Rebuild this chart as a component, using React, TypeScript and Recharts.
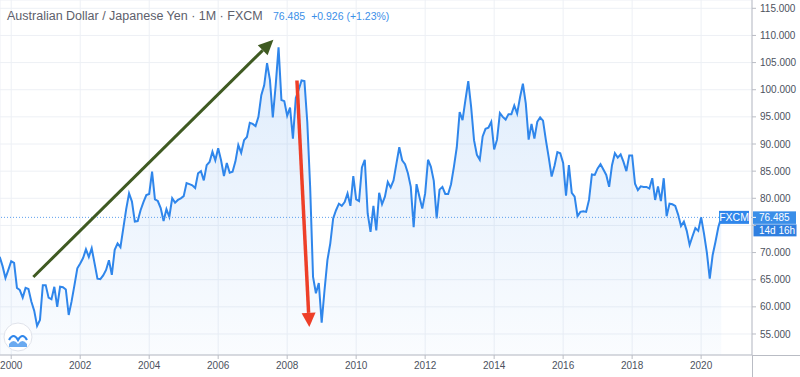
import React from 'react';
import { ComposedChart, Area, XAxis, YAxis, CartesianGrid, ReferenceLine } from 'recharts';

// monthly closes, AUD/JPY, first value is Sep 1999
const FIRST_MONTH = -4; // months counted from Jan 2000

const closes1999 = [69.2, 67.5, 65.3, 66.8];
const closes2000 = [68.4, 68.1, 63.5, 63.1, 61.7, 63.5, 63.3, 61.0, 59.3, 56.5, 57.6, 64.0];
const closes2001 = [64.0, 61.7, 61.4, 63.7, 60.0, 63.7, 63.6, 63.2, 58.5, 61.0, 64.0, 67.1];
const closes2002 = [68.0, 69.0, 70.6, 69.2, 70.8, 68.0, 65.2, 65.1, 65.8, 66.8, 68.6, 65.9];
const closes2003 = [70.5, 71.7, 71.0, 74.5, 78.0, 80.9, 79.4, 75.7, 75.8, 77.8, 79.3, 80.6];
const closes2004 = [80.8, 84.9, 79.8, 79.5, 78.2, 75.8, 78.0, 76.6, 80.0, 79.2, 79.7, 80.0];
const closes2005 = [80.4, 82.8, 82.6, 82.4, 81.9, 84.6, 85.0, 83.3, 86.1, 86.7, 88.6, 87.0];
const closes2006 = [89.2, 87.0, 84.1, 86.5, 84.7, 84.9, 86.8, 89.8, 88.4, 90.7, 91.3, 93.9];
const closes2007 = [93.7, 93.3, 95.0, 99.0, 100.8, 104.9, 101.8, 94.9, 100.8, 107.8, 98.1, 97.9];
const closes2008 = [95.2, 96.7, 91.0, 98.5, 100.0, 101.7, 101.6, 94.0, 82.0, 65.5, 62.5, 64.4];
const closes2009 = [57.1, 63.1, 68.6, 71.7, 76.3, 77.8, 79.0, 78.6, 79.3, 80.9, 78.6, 84.1];
const closes2010 = [79.8, 79.5, 85.7, 87.1, 77.2, 73.8, 78.6, 74.1, 81.0, 78.9, 80.3, 83.0];
const closes2011 = [82.0, 83.3, 86.4, 89.4, 87.0, 86.3, 84.6, 82.1, 74.7, 82.6, 80.3, 78.1];
const closes2012 = [80.9, 87.1, 85.8, 83.2, 76.3, 81.6, 82.1, 80.8, 80.8, 82.6, 85.8, 89.4];
const closes2013 = [95.9, 94.4, 98.1, 101.6, 96.8, 90.7, 88.0, 87.1, 91.4, 92.8, 93.0, 94.1];
const closes2014 = [89.0, 90.8, 95.7, 95.0, 94.5, 95.5, 95.5, 97.1, 95.6, 98.6, 101.1, 97.5];
const closes2015 = [90.8, 93.7, 91.0, 94.1, 94.9, 94.3, 90.7, 87.5, 84.0, 86.0, 88.5, 88.3];
const closes2016 = [86.5, 80.5, 86.1, 81.0, 80.3, 76.7, 77.5, 77.6, 77.5, 79.7, 84.4, 84.3];
const closes2017 = [85.5, 86.3, 85.3, 84.3, 82.1, 86.1, 88.3, 87.5, 88.1, 86.7, 85.0, 87.9];
const closes2018 = [87.9, 82.7, 81.5, 82.2, 82.1, 82.1, 81.8, 83.7, 79.7, 82.2, 79.5, 83.7];
const closes2019 = [76.7, 79.0, 78.9, 78.6, 77.0, 74.9, 75.7, 74.0, 71.4, 73.0, 74.5, 74.0];
const closes2020 = [76.5, 73.5, 70.0, 65.2, 69.5, 72.0, 74.7, 76.485];

const yearTicks = [2000, 2002, 2004, 2006, 2008, 2010, 2012, 2014, 2016, 2018, 2020];
const priceTicks = [55, 60, 65, 70, 75, 80, 85, 90, 95, 100, 105, 110, 115];
const hiddenTick = 75; // sits under the price tag

const lastPrice = 76.485;
const change = '+0.926 (+1.23%)';
const countdown = '14d 16h';

// hand-drawn arrows, in (month, price)
const riseArrow = [{ x: 7.7, y: 65.5 }, { x: 91.2, y: 109.2 }];
const crashArrow = [{ x: 99.4, y: 101.7 }, { x: 103.7, y: 56.3 }];

const allCloses = [
  closes1999, closes2000, closes2001, closes2002, closes2003, closes2004, closes2005,
  closes2006, closes2007, closes2008, closes2009, closes2010, closes2011, closes2012,
  closes2013, closes2014, closes2015, closes2016, closes2017, closes2018, closes2019, closes2020,
].flat();

const data = allCloses.map((close, i) => ({ t: FIRST_MONTH + i, close }));
const monthTicks = yearTicks.map((y) => (y - 2000) * 12);

const FONT = '"Liberation Sans", Arial, sans-serif';
const BLUE = '#2f86eb';
const AXIS = '#b9bcc4';

const arrowShape = (color: string, width: number, head: number, half: number) => (props: any) => {
  const { x1, y1, x2, y2 } = props;
  if ([x1, y1, x2, y2].some((v) => typeof v !== 'number' || isNaN(v))) return <g />;
  const a = Math.atan2(y2 - y1, x2 - x1);
  const bx = x2 - head * Math.cos(a);
  const by = y2 - head * Math.sin(a);
  const px = -Math.sin(a) * half;
  const py = Math.cos(a) * half;
  return (
    <g>
      <line x1={x1} y1={y1} x2={bx} y2={by} stroke={color} strokeWidth={width} />
      <polygon points={`${x2},${y2} ${bx + px},${by + py} ${bx - px},${by - py}`} fill={color} />
    </g>
  );
};

const PriceTag = (props: any) => {
  const vb = props.viewBox || {};
  const right = (vb.x || 0) + (vb.width || 0);
  const y = vb.y || 0;
  return (
    <g fontFamily={FONT}>
      <rect x={right - 33} y={y - 6.5} width={30} height={13} fill={BLUE} />
      <text x={right - 18} y={y + 4} textAnchor="middle" fill="#fff" fontSize={10.5}>FXCM</text>
      <rect x={right + 1} y={y - 6} width={43} height={12.5} fill="#3a8ee8" />
      <line x1={right} x2={right + 4} y1={y} y2={y} stroke="#fff" strokeWidth={1} />
      <text x={right + 7} y={y + 3.8} fill="#fff" fontSize={10}>{lastPrice.toFixed(3)}</text>
      <rect x={right + 1.5} y={y + 7} width={43} height={12} fill="#2f7fe0" />
      <text x={right + 7} y={y + 16.6} fill="#fff" fontSize={10}>{countdown}</text>
    </g>
  );
};

const App = () => {
  return (
    <div style={{ position: 'absolute', left: 0, top: 0, width: 800, height: 377, background: '#fff' }}>
      <ComposedChart width={800} height={377} data={data} margin={{ top: 0, right: 0, bottom: 0, left: 0 }}>
        <defs>
          <linearGradient id="areaFill" x1="0" y1="0" x2="0" y2="1">
            <stop offset="0%" stopColor="#2f86eb" stopOpacity={0.26} />
            <stop offset="100%" stopColor="#2f86eb" stopOpacity={0.04} />
          </linearGradient>
        </defs>
        <CartesianGrid stroke="#edf0f5" />
        <XAxis
          dataKey="t"
          type="number"
          domain={[-3.9, 257.7]}
          allowDataOverflow
          ticks={monthTicks}
          interval={0}
          tickFormatter={(m: number) => String(2000 + m / 12)}
          height={22}
          tickSize={4}
          tickMargin={3}
          axisLine={{ stroke: AXIS }}
          tickLine={{ stroke: AXIS }}
          tick={{ fill: '#4c525e', fontSize: 10, fontFamily: FONT }}
        />
        <YAxis
          orientation="right"
          width={48}
          domain={[51.13, 116.53]}
          allowDataOverflow
          ticks={priceTicks}
          interval={0}
          tickFormatter={(v: number) => (v === hiddenTick ? '' : v.toFixed(3))}
          tickSize={4}
          tickMargin={4}
          axisLine={{ stroke: AXIS }}
          tickLine={{ stroke: AXIS }}
          tick={{ fill: '#4c525e', fontSize: 10, fontFamily: FONT }}
        />
        <Area
          type="linear"
          dataKey="close"
          stroke={BLUE}
          strokeWidth={2}
          fill="url(#areaFill)"
          dot={false}
          activeDot={false}
          isAnimationActive={false}
        />
        <ReferenceLine y={lastPrice} stroke="#5ea1ee" strokeDasharray="1 2" label={(p: any) => <PriceTag {...p} />} />
        <ReferenceLine segment={riseArrow} shape={arrowShape('#3f5a22', 3, 15, 7)} />
        <ReferenceLine segment={crashArrow} shape={arrowShape('#ee3f28', 3.5, 14, 7)} />
      </ComposedChart>
      <svg width={800} height={377} style={{ position: 'absolute', left: 0, top: 0, pointerEvents: 'none' }}>
        <line x1={752.5} x2={752.5} y1={355} y2={377} stroke={AXIS} />
        <line x1={752} x2={800} y1={355.5} y2={355.5} stroke={AXIS} />
        <text x={7} y={19.5} fontFamily={FONT} fontSize={12.5} fill="#5d606b">
          Australian Dollar / Japanese Yen · 1M · FXCM
        </text>
        <text x={273} y={19.5} fontFamily={FONT} fontSize={10.5} fill="#3c8fe8">
          {lastPrice.toFixed(3)}
          <tspan dx={6}>{change}</tspan>
        </text>
        <circle cx={18} cy={337} r={14} fill="#fff" stroke="#e0e3eb" />
        <path d="M9 340 q4.5 -8 9 0 q4.5 -8 9 0" stroke={BLUE} strokeWidth={2.2} fill="none" />
        <path d="M9 344 q4.5 -6 9 0 q4.5 -6 9 0 l0 3 l-18 0 z" fill="#6aaaf0" />
      </svg>
    </div>
  );
};

export default App;
